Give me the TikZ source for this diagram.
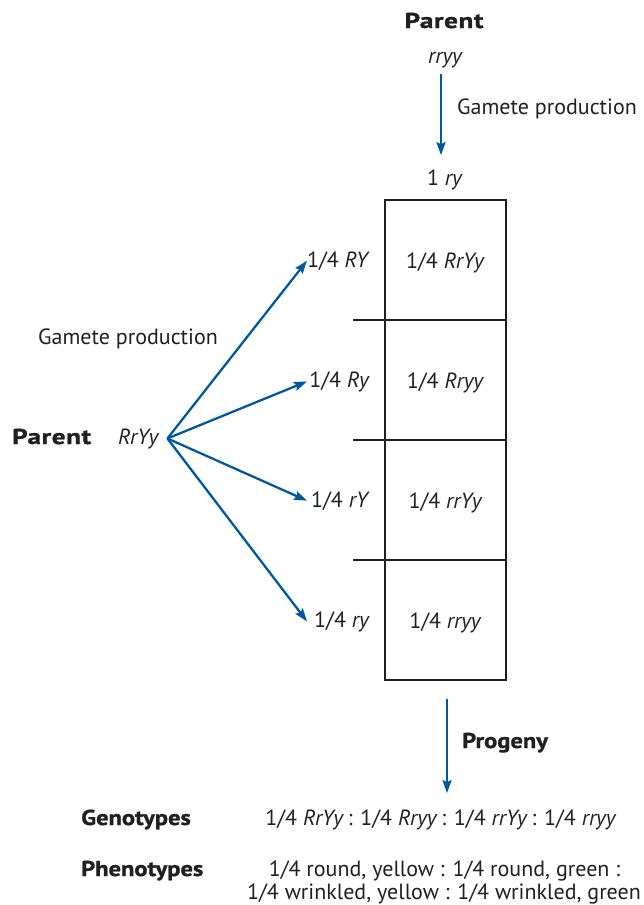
\documentclass[tikz,border=0pt]{standalone}
\usepackage{fontspec}
\setmainfont{PT Sans}
\newfontfamily\headfont[FakeStretch=1.14, FakeBold=1.2]{PT Sans Bold}
\newfontfamily\parentfont[FakeStretch=1.26, FakeBold=1.4, LetterSpace=3]{PT Sans Bold}
\usetikzlibrary{arrows.meta,calc}
\definecolor{arrowblue}{RGB}{0,88,158}
\definecolor{ink}{RGB}{35,31,32}
\begin{document}
\begin{tikzpicture}[x=1pt,y=-1pt,
  txt/.style={inner sep=0pt, text=ink, font=\fontsize{22}{26}\selectfont},
  head/.style={inner sep=0pt, text=ink, font=\fontsize{21.5}{26}\headfont},
  parenthead/.style={inner sep=0pt, text=ink, font=\fontsize{21.5}{26}\parentfont},
  arr/.style={draw=arrowblue, line width=2.3pt, -{Stealth[length=13pt,width=9pt,inset=2pt]}},
  cellbox/.style={draw=ink, line width=2.3pt, inner sep=0pt, minimum width=121pt, minimum height=480pt},
  rule/.style={draw=ink, line width=1.1pt}]
\useasboundingbox (0,0) rectangle (644,905);

% homozygous recessive parent
\node[parenthead, anchor=base] (ptop) at (444,28) {Parent};
\node[txt, anchor=base] (rryy) at (445,63) {\itshape rryy};
\node[txt, anchor=base west] (gptop) at (457,114) {Gamete production};
\node[txt, anchor=base] (one) at (445,185) {1 \textit{ry}};
\draw[arr] ([xshift=-4pt,yshift=-6pt]rryy.south) -- ([xshift=-4pt,yshift=14pt]one.north);

% Punnett column
\node[cellbox] (box) at (445.5,440) {};
\foreach \y in {320,440,560}{
  \coordinate (d) at (353,\y);
  \draw[rule] (d) -- (d -| box.east);
}
\node[txt, anchor=base] (c1) at (445.5,268) {1/4 \textit{RrYy}};
\node[txt, anchor=base] (c2) at (445.5,388) {1/4 \textit{Rryy}};
\node[txt, anchor=base] (c3) at (445.5,508) {1/4 \textit{rrYy}};
\node[txt, anchor=base] (c4) at (445.5,628) {1/4 \textit{rryy}};

% dihybrid parent and its gametes
\node[parenthead, anchor=base west] (pleft) at (12,444) {Parent};
\node[txt, anchor=base west] (RrYy) at (118,444) {\itshape RrYy};
\node[txt, anchor=base west] (gpleft) at (38,344) {Gamete production};
\coordinate (hub) at ([xshift=9pt]RrYy.east);
\coordinate (tipcol) at (307,0);
\node[txt, anchor=base east] (g1) at (370,267) {1/4 \textit{RY}};
\node[txt, anchor=base east] (g2) at (370,387) {1/4 \textit{Ry}};
\node[txt, anchor=base east] (g3) at (370,507) {1/4 \textit{rY}};
\node[txt, anchor=base east] (g4) at (370,627) {1/4 \textit{ry}};
\foreach \g in {g1,g2,g3,g4}
  \draw[arr] (hub) -- (\g.west -| tipcol);

% progeny
\node[head, anchor=base west] (prog) at (462,748) {Progeny};
\node[head, anchor=base west] (geno) at (81,825) {Genotypes};
\node[head, anchor=base west] (pheno) at (81,876) {Phenotypes};
\node[txt, anchor=base] (genoline) at (441,825) {1/4 \textit{RrYy}\,: 1/4 \textit{Rryy}\,: 1/4 \textit{rrYy}\,: 1/4 \textit{rryy}};
\node[txt, anchor=base] (ph1) at (444.5,876) {1/4 round, yellow : 1/4 round, green :};
\node[txt, anchor=base] (ph2) at (444,899) {1/4 wrinkled, yellow : 1/4 wrinkled, green};
\draw[arr] ([xshift=1.5pt,yshift=-18pt]box.south) -- ([xshift=6pt,yshift=16pt]genoline.north);
\end{tikzpicture}
\end{document}
